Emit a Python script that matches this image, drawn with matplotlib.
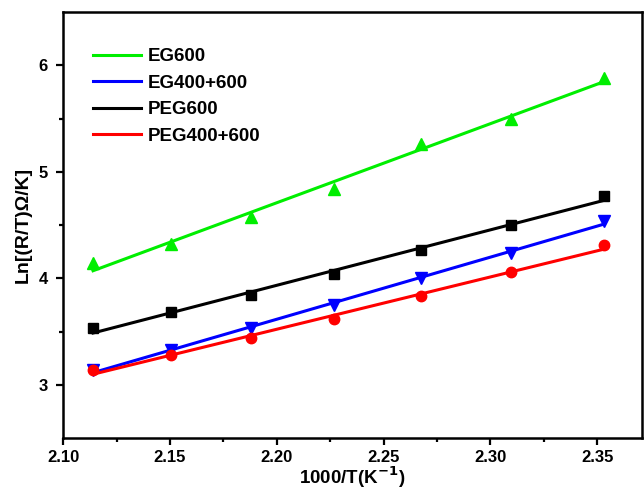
import numpy as np
from matplotlib import pyplot as plt

plt.rcParams['font.family'] = ['Liberation Sans', 'DejaVu Sans']
plt.rcParams['font.weight'] = 'bold'

# 1000/T values and Ln[(R/T)] for each sample
inv_t = [2.114, 2.1505, 2.188, 2.227, 2.2676, 2.3095, 2.353]
eg600 = [4.14, 4.32, 4.58, 4.84, 5.26, 5.50, 5.88]
eg400_600 = [3.14, 3.33, 3.53, 3.75, 4.00, 4.24, 4.54]
peg600 = [3.53, 3.68, 3.84, 4.04, 4.27, 4.50, 4.77]
peg400_600 = [3.14, 3.28, 3.44, 3.62, 3.83, 4.06, 4.31]

labels = ['EG600', 'EG400+600', 'PEG600', 'PEG400+600']
series = [eg600, eg400_600, peg600, peg400_600]
colors = ['#00ee00', '#0000ff', '#000000', '#ff0000']
markers = ['^', 'v', 's', 'o']
msizes = [8, 8, 7, 7.5]

fig = plt.figure(figsize=(6.44, 4.9), dpi=100)
ax = fig.add_axes([0.098, 0.106, 0.899, 0.8695])

x = np.array(inv_t)
handles = []
for y, lab, c, m, ms in zip(series, labels, colors, markers, msizes):
    # linear fit drawn through the data range
    k, b = np.polyfit(x, y, 1)
    ln, = ax.plot(x, k * x + b, color=c, lw=2.2, label=lab, zorder=2)
    ax.plot(x, y, ls='none', marker=m, ms=ms, color=c, mec=c, zorder=3)
    handles.append(ln)

ax.set_xlim(2.10, 2.371)
ax.set_ylim(2.5, 6.5)
ax.set_xticks([2.10, 2.15, 2.20, 2.25, 2.30, 2.35])
ax.set_xticks([2.125, 2.175, 2.225, 2.275, 2.325], minor=True)
ax.set_yticks([3, 4, 5, 6])
ax.set_yticks([3.5, 4.5, 5.5], minor=True)
ax.xaxis.set_major_formatter(plt.FormatStrFormatter('%.2f'))

for s in ax.spines.values():
    s.set_linewidth(1.8)
ax.tick_params(which='major', direction='out', length=5, width=1.6,
               labelsize=12, top=False, right=False)
ax.tick_params(axis='y', which='major', pad=6)
ax.tick_params(which='minor', direction='out', length=3, width=1.6)
for t in ax.get_xticklabels() + ax.get_yticklabels():
    t.set_fontweight('bold')

ax.set_xlabel('1000/T(K$^{\\mathbf{-1}}$)', fontsize=13.5, fontweight='bold', labelpad=0)
ax.set_ylabel('Ln[(R/T)Ω/K]', fontsize=14, fontweight='bold', labelpad=5)

ax.legend(handles=handles, loc='upper left', frameon=False,
          handlelength=2.6, handletextpad=0.35, labelspacing=0.5,
          bbox_to_anchor=(0.022, 0.955), prop={'weight': 'bold', 'size': 13.5})

plt.savefig('out.png', dpi=100)
plt.close()
